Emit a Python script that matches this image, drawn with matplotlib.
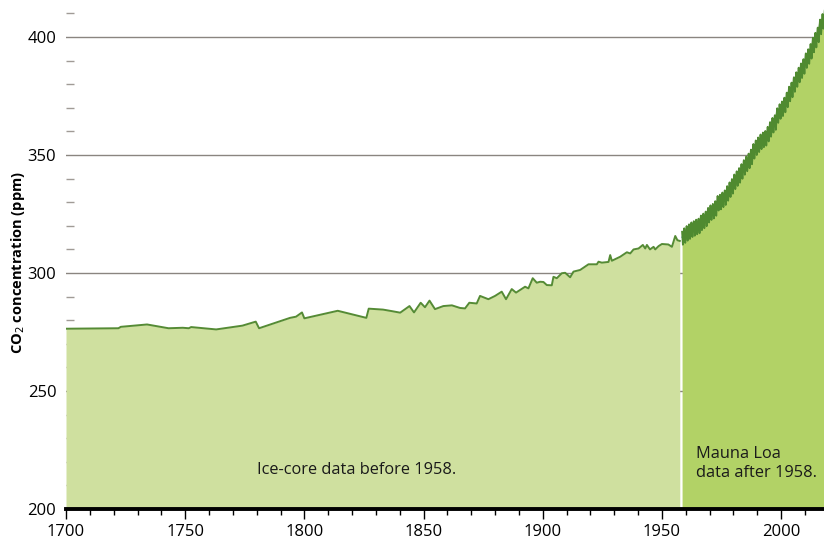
import numpy as np
import matplotlib.pyplot as plt
from matplotlib.ticker import MultipleLocator

plt.rcParams['font.family'] = ['Open Sans', 'DejaVu Sans']

# Ice-core record
ice_years = [1700, 1722, 1723, 1734, 1743, 1749, 1751.5, 1752.5, 1763, 1774, 1779.6, 1781,
             1794, 1796.5, 1799, 1800, 1814, 1826, 1827, 1833, 1837, 1840.2, 1844.1, 1846,
             1848.8, 1850.6, 1852.5, 1854.8, 1858.3, 1861.9, 1865.3, 1867.4, 1869.2, 1872.3,
             1873.7, 1877.2, 1880, 1882.8, 1884.6, 1887, 1888.8, 1892.6, 1894, 1895.8, 1897.5,
             1898.9, 1900.3, 1901.7, 1903.8, 1904.5, 1905.9, 1908, 1909.4, 1911.5, 1912.9,
             1915.7, 1919.2, 1922.7, 1923.4, 1924.8, 1927.6, 1928.3, 1929, 1932.5, 1935.3,
             1936.7, 1938.1, 1940.2, 1942, 1943, 1943.7, 1945, 1946.5, 1947.2, 1948.6, 1950,
             1952.7, 1954.2, 1955.6, 1956.5, 1957.5]
ice_co2 = [276.4, 276.6, 277.2, 278.2, 276.6, 276.8, 276.6, 277.1, 276.1, 277.7, 279.4, 276.6,
           281.0, 281.5, 283.3, 280.8, 284.0, 281.0, 284.9, 284.5, 283.8, 283.2, 286.0, 283.3,
           287.4, 285.5, 288.3, 284.7, 286.0, 286.3, 285.2, 285.0, 287.4, 287.1,
           290.3, 288.9, 290.3, 292.1, 288.9, 293.2, 291.7, 294.2, 293.5, 297.8, 295.9,
           296.3, 296.2, 294.9, 294.8, 298.4, 297.8, 299.9, 300.1, 298.2, 300.6,
           301.3, 303.7, 303.7, 304.8, 304.4, 304.7, 307.6, 305.2, 306.9, 308.8,
           308.3, 310.0, 310.4, 311.9, 310.4, 311.9, 310.0, 311.1, 310.0, 311.4, 312.3,
           312.1, 311.1, 315.7, 313.9, 313.6]

# Mauna Loa annual means and the mean seasonal cycle (Jan..Dec offsets)
ml_years = list(range(1958, 2019))
ml_annual = [315.2, 315.97, 316.91, 317.64, 318.45, 318.99, 319.62, 320.04, 321.37, 322.18,
             323.05, 324.62, 325.68, 326.32, 327.46, 329.68, 330.19, 331.12, 332.03, 333.84,
             335.41, 336.84, 338.76, 340.12, 341.48, 343.15, 344.85, 346.35, 347.61, 349.31,
             351.69, 353.20, 354.45, 355.70, 356.54, 357.21, 358.96, 360.97, 362.74, 363.88,
             366.84, 368.54, 369.71, 371.32, 373.45, 375.98, 377.70, 379.98, 382.09, 384.02,
             385.83, 387.64, 390.10, 391.85, 394.06, 396.74, 398.81, 401.01, 404.41, 406.76,
             408.72]
season = [0.0, 0.6, 1.3, 2.5, 3.0, 2.3, 0.8, -1.3, -3.0, -3.2, -1.9, -0.8]

ml_t, ml_co2 = [], []
for yr, mean in zip(ml_years, ml_annual):
    for m, off in enumerate(season):
        t = yr + (m + 0.5) / 12
        if t < 1958.4:
            continue
        ml_t.append(t)
        ml_co2.append(mean + off)

fig = plt.figure(figsize=(8.24, 5.44), dpi=100)
ax = fig.add_axes([66 / 824, 35 / 544, 758 / 824, 509 / 544])

ice_fill = '#cfe09f'
ml_fill = '#b2d266'
line_col = '#558b35'

ax.fill_between(ice_years, 200, ice_co2, color=ice_fill, lw=0, zorder=2)
ax.plot(ice_years, ice_co2, color=line_col, lw=1.4, zorder=3)

ax.fill_between(ml_t, 200, ml_co2, color=ml_fill, lw=0, zorder=2)
ax.plot(np.array(ml_years) + 0.5, ml_annual, color='#3a78b5', lw=1, zorder=3)
ax.plot(ml_t, ml_co2, color='#4f8a30', lw=1.3, zorder=4)

ax.text(1822, 216.5, 'Ice-core data before 1958.', ha='center', va='center', fontsize=11.8,
        color='#1a1a1a', zorder=5)
ax.text(1964.3, 219.3, 'Mauna Loa\ndata after 1958.', ha='left', va='center', fontsize=11.8,
        color='#1a1a1a', linespacing=1.25, zorder=5)

ax.set_xlim(1700, 2018)
ax.set_ylim(200, 415.7)

for s in ['top', 'right', 'left']:
    ax.spines[s].set_visible(False)
ax.spines['bottom'].set_linewidth(2.8)
ax.spines['bottom'].set_color('black')
ax.spines['bottom'].set_zorder(6)

ax.xaxis.set_major_locator(MultipleLocator(50))
ax.xaxis.set_minor_locator(MultipleLocator(10))
ax.yaxis.set_major_locator(MultipleLocator(50))
ax.yaxis.set_minor_locator(MultipleLocator(10))

ax.tick_params(axis='x', which='major', length=7, width=1, color='black', labelsize=12, pad=4)
ax.tick_params(axis='x', which='minor', length=4, width=1, color='black')
ax.tick_params(axis='y', which='major', length=0, labelsize=12, pad=7)
ax.tick_params(axis='y', which='minor', direction='in', length=6, width=1, color='#a09b96')

ax.yaxis.grid(True, which='major', color='#8a8580', lw=1)
ax.set_axisbelow(True)

fig.text(18 / 824, 1 - 262 / 544, 'CO$_2$ concentration (ppm)', rotation=90,
         ha='center', va='center', fontsize=10.5, fontweight='bold')

fig.savefig('out.png', dpi=100)
